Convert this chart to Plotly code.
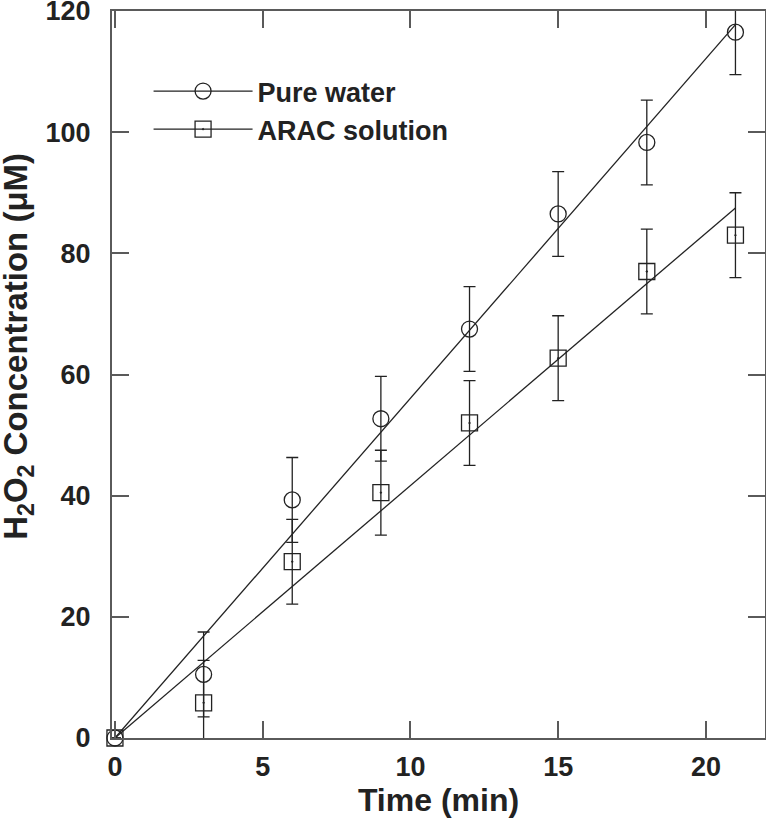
import numpy as np
import plotly.graph_objects as go

time_min = [0, 3, 6, 9, 12, 15, 18, 21]
pure_water = [0, 10.5, 39.3, 52.7, 67.5, 86.5, 98.3, 116.5]
pure_water_err = [None, 7, 7, 7, 7, 7, 7, 7]
arac_solution = [0, 5.8, 29.1, 40.5, 52.0, 62.7, 77.0, 83.0]
arac_err = [None, 7, 7, 7, 7, 7, 7, 7]
x_ticks = [0, 5, 10, 15, 20]
y_ticks = [0, 20, 40, 60, 80, 100, 120]

FONT = "Liberation Sans"
INK = "#222222"
AXIS = "#5a5a5a"

t = np.array(time_min, dtype=float)


def slope_through_origin(y):
    y = np.array(y, dtype=float)
    return float((t * y).sum() / (t * t).sum())


fit_x = np.array([0.0, max(time_min)])
fig = go.Figure()

series = [
    ("Pure water", pure_water, pure_water_err, "circle-open"),
    ("ARAC solution", arac_solution, arac_err, "square-open-dot"),
]

for name, ys, errs, sym in series:
    k = slope_through_origin(ys)
    fig.add_trace(go.Scatter(x=fit_x, y=k * fit_x, mode="lines",
                             line=dict(color=INK, width=1.3),
                             showlegend=False, hoverinfo="skip"))
    fig.add_trace(go.Scatter(x=time_min, y=ys, mode="markers",
                             marker=dict(size=1, color="rgba(0,0,0,0)"),
                             error_y=dict(type="data", array=errs, visible=True,
                                          color=INK, thickness=1.3, width=6),
                             showlegend=False, hoverinfo="skip"))

for name, ys, errs, sym in series:
    fig.add_trace(go.Scatter(x=time_min, y=ys, mode="markers", cliponaxis=False,
                             marker=dict(symbol=sym, size=16, color=INK,
                                         line=dict(color=INK, width=1.3)),
                             showlegend=False))
    fig.add_trace(go.Scatter(x=[None], y=[None], mode="lines+markers", name=name,
                             marker=dict(symbol=sym, size=16, color=INK,
                                         line=dict(color=INK, width=1.3)),
                             line=dict(color=INK, width=1.3)))

axis_common = dict(
    showline=True, linecolor=AXIS, linewidth=2, mirror="ticks",
    ticks="inside", ticklen=17, tickwidth=1.5, tickcolor=AXIS,
    showgrid=False, zeroline=False, automargin=False,
    ticklabeloverflow="allow",
    tickfont=dict(family=FONT, size=27, color=INK, weight="bold"),
)

fig.update_xaxes(range=[-0.1, 22], tickvals=x_ticks, ticklabelstandoff=4,
                 title=dict(text="Time (min)",
                            font=dict(family=FONT, size=32, color=INK, weight="bold"),
                            standoff=7),
                 **axis_common)
fig.update_yaxes(range=[0, 120], tickvals=y_ticks, ticklabelstandoff=14,
                 **axis_common)

fig.add_annotation(
    text="H<sub>2</sub>O<sub>2</sub> Concentration (μM)",
    xref="paper", yref="paper", x=-0.143, y=0.539,
    xanchor="center", yanchor="middle", textangle=-90, showarrow=False,
    font=dict(family=FONT, size=33, color=INK, weight="bold"),
)

fig.update_layout(
    width=766, height=823,
    margin=dict(l=112, r=1, t=11, b=85),
    plot_bgcolor="white", paper_bgcolor="white",
    font=dict(family=FONT, color=INK),
    showlegend=True,
    legend=dict(x=0.056, y=0.923, xanchor="left", yanchor="top",
                bgcolor="rgba(0,0,0,0)", borderwidth=0,
                font=dict(family=FONT, size=27, color=INK, weight="bold"),
                itemwidth=99, tracegroupgap=0),
)

fig.write_html("out.html", config={"displayModeBar": False},
               post_script="document.body.style.margin='0';document.body.style.padding='0';")
